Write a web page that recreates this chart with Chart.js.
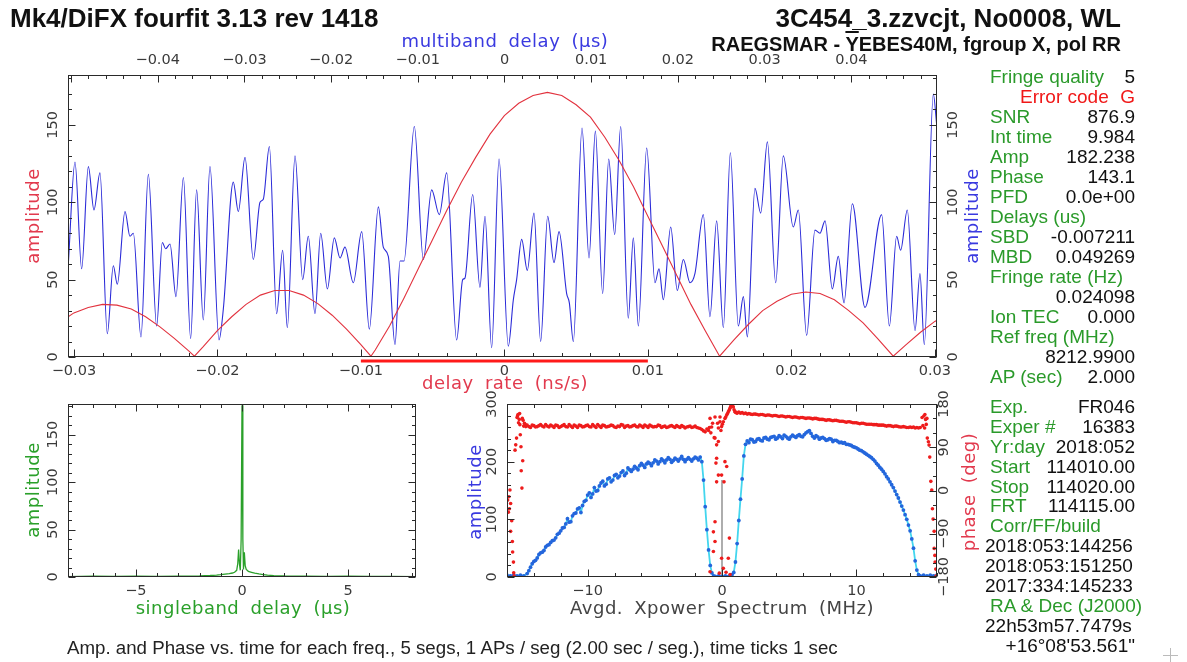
<!DOCTYPE html>
<html><head><meta charset="utf-8">
<script src="https://cdn.jsdelivr.net/npm/chart.js@4.4.1/dist/chart.umd.min.js"></script>
<style>
html,body{margin:0;padding:0;background:#fff;}
#page{position:relative;width:1187px;height:662px;overflow:hidden;font-family:"Liberation Sans",Arial,Helvetica,sans-serif;background:#fff;}
canvas{position:absolute;left:0;top:0;}
.t{position:absolute;white-space:nowrap;}
.hdr{font-weight:bold;font-size:26px;line-height:26px;color:#111;}
.sub{font-weight:bold;font-size:20px;line-height:20px;color:#111;}
.info{font-size:19px;line-height:19px;}
.g{color:#2a9a2a;} .k{color:#111;} .r{color:#f01818;}
.foot{font-size:18.7px;line-height:18.7px;color:#222;}
</style></head>
<body><div id="page">
<canvas id="cMain" width="1187" height="662"></canvas>
<canvas id="cSbd" width="1187" height="662"></canvas>
<canvas id="cSpec" width="1187" height="662"></canvas>
<div class="t hdr" style="left:10px;top:5px;">Mk4/DiFX fourfit 3.13 rev 1418</div>
<div class="t hdr" style="right:66px;top:5px;">3C454_3.zzvcjt, No0008, WL</div>
<div class="t sub" style="right:66px;top:34px;">RAEGSMAR - <span style="text-decoration:overline">Y</span>EBES40M, fgroup X, pol RR</div>
<div class="t foot" style="left:67px;top:639px;">Amp. and Phase vs. time for each freq., 5 segs, 1 APs / seg (2.00 sec / seg.), time ticks 1 sec</div>
<div class="t" style="left:1163px;top:655px;width:15px;height:1px;background:#bbb;"></div>
<div class="t" style="left:1170px;top:648px;width:1px;height:15px;background:#bbb;"></div>
<div id="info"></div>
</div>
<script>
// ---------------- DATA ----------------
// delay-rate function (red), x in ns/s
const rateX = [-0.0304,-0.030,-0.029,-0.028,-0.027,-0.026,-0.025,-0.024,-0.023,-0.022,-0.0216,-0.021,-0.020,-0.019,-0.018,-0.017,-0.016,-0.015,-0.014,-0.013,-0.012,-0.011,-0.010,-0.0093,-0.009,-0.008,-0.007,-0.006,-0.005,-0.004,-0.003,-0.002,-0.001,0.000,0.001,0.002,0.003,0.004,0.005,0.006,0.007,0.008,0.009,0.010,0.011,0.012,0.013,0.014,0.015,0.016,0.017,0.018,0.019,0.020,0.021,0.022,0.023,0.024,0.025,0.026,0.0271,0.028,0.029,0.030,0.03015];
const rateAmp = [26,28.5,32,34,33.5,31,26,19.5,12,4,0.5,6.5,17,26,34,40,43,43,40,34.5,27,18,8,0.5,4.5,20,38,57,76,95,113,129,144,156,164,169,171,169,163,155,142,127,110,91,72,53,34,17,0.5,11,21,30,36,40.5,42,41,37,30,22,12,0.5,8,16,23,23.8];
// multiband delay function (blue), x in microseconds
const mbdX = [-0.05031,-0.04954,-0.04877,-0.04800,-0.04735,-0.04666,-0.04581,-0.04512,-0.04466,-0.04377,-0.04320,-0.04281,-0.04193,-0.04108,-0.04012,-0.03947,-0.03908,-0.03858,-0.03789,-0.03704,-0.03620,-0.03551,-0.03474,-0.03397,-0.03293,-0.03243,-0.03128,-0.03070,-0.02993,-0.02897,-0.02820,-0.02782,-0.02712,-0.02628,-0.02559,-0.02505,-0.02416,-0.02328,-0.02263,-0.02186,-0.02120,-0.02043,-0.01963,-0.01897,-0.01840,-0.01744,-0.01647,-0.01559,-0.01455,-0.01398,-0.01340,-0.01263,-0.01205,-0.01159,-0.01040,-0.00936,-0.00840,-0.00752,-0.00667,-0.00552,-0.00482,-0.00456,-0.00367,-0.00283,-0.00225,-0.00148,-0.00063,0.00044,0.00102,0.00140,0.00198,0.00263,0.00340,0.00417,0.00498,0.00571,0.00629,0.00717,0.00748,0.00794,0.00894,0.00975,0.01048,0.01132,0.01202,0.01271,0.01340,0.01428,0.01486,0.01544,0.01640,0.01736,0.01782,0.01832,0.01917,0.01993,0.02063,0.02140,0.02197,0.02293,0.02370,0.02447,0.02524,0.02605,0.02697,0.02755,0.02801,0.02889,0.02955,0.03032,0.03128,0.03216,0.03331,0.03389,0.03485,0.03581,0.03639,0.03697,0.03781,0.03850,0.03916,0.04012,0.04158,0.04350,0.04439,0.04523,0.04569,0.04646,0.04735,0.04792,0.04842,0.04946,0.04985];
const mbdAmp = [60,126,57,123,95,119,15,59,47,94,78,80,13,118,20,74,70,73,39,116,12,108,24,123,11,31,113,94,129,63,100,102,136,28,69,19,130,50,78,28,80,44,77,64,71,48,81,18,97,71,65,8,62,62,149,63,108,92,119,11,50,51,105,45,91,6,128,7,37,50,76,56,93,10,91,61,81,41,35,10,148,64,146,41,128,79,149,25,77,20,135,48,57,37,84,43,63,48,54,92,26,88,19,132,20,39,13,109,93,139,48,130,84,95,14,82,80,88,44,65,35,99,32,92,20,78,69,95,17,54,8,170,150];
// singleband delay (green), x in microseconds
const sbdX = [-8.2,-7,-6,-5,-4,-3,-2,-1.5,-1.2,-1,-0.8,-0.6,-0.45,-0.35,-0.25,-0.2,-0.16,-0.12,-0.08,-0.04,0,0.04,0.07,0.11,0.15,0.2,0.3,0.45,0.6,0.8,1,1.2,1.5,2,3,4,5,6,7,8.2];
const sbdAmp = [0.5,0.8,0.6,0.9,0.7,1.0,1.2,1.6,2.0,2.4,3,3.6,4.2,5,7,14,29,14,7,40,181,40,8,26,12,8,6,5,4,3.2,2.6,2,1.5,1.1,0.9,0.7,0.8,0.6,0.7,0.5];
// averaged cross-power spectrum, x in MHz (main grid)
const specFreq = [-16,-15.75,-15.5,-15.25,-15,-14.75,-14.5,-14.25,-14,-13.75,-13.5,-13.25,-13,-12.75,-12.5,-12.25,-12,-11.75,-11.5,-11.25,-11,-10.75,-10.5,-10.25,-10,-9.75,-9.5,-9.25,-9,-8.75,-8.5,-8.25,-8,-7.75,-7.5,-7.25,-7,-6.75,-6.5,-6.25,-6,-5.75,-5.5,-5.25,-5,-4.75,-4.5,-4.25,-4,-3.75,-3.5,-3.25,-3,-2.75,-2.5,-2.25,-2,-1.75,
 -1.625,-1.5,-1.375,-1.25,-1.125,-1,-0.875,-0.75,-0.625,-0.5,-0.25,0,0.25,0.5,0.625,0.75,0.875,1,1.125,1.25,1.375,1.5,1.625,1.75,1.875,
 2,2.25,2.5,2.75,3,3.25,3.5,3.75,4,4.25,4.5,4.75,5,5.25,5.5,5.75,6,6.25,6.5,6.75,7,7.25,7.5,7.75,8,8.25,8.5,8.75,9,9.25,9.5,9.75,10,10.25,10.5,10.75,11,11.25,11.5,11.75,12,12.25,12.5,12.75,13,13.25,13.5,13.75,14,
 14.125,14.25,14.375,14.5,14.625,14.75,15,15.25,15.5,15.75,16];
const specAmp = [3,2,3,2,3,2,6,17,27,33,42,46,55,60,64,74,80,86,101,96,110,118,112,131,142,138,155,150,163,158,170,165,176,172,181,176,189,183,192,186,197,190,199,193,203,196,205,198,207,199,206,201,209,200,207,201,208,203,
 208,200,168,122,82,47,20,7,2,1,2,1,2,1,1,4,8,26,58,98,135,170,210,230,236,
 233,238,235,240,236,242,238,243,239,245,240,244,239,246,242,247,243,250,254,244,245,239,242,237,240,235,237,233,232,230,229,226,224,220,217,213,209,204,197,190,183,174,165,155,143,130,116,100,80,
 66,50,28,12,4,2,3,2,3,2,3];
const specPhase = [null,null,null,null,null,null,136,131,135,133,137,132,134,136,131,135,133,137,132,134,136,131,135,133,136,132,134,137,131,135,133,136,132,134,137,131,135,133,136,132,134,136,131,134,133,136,131,134,132,135,131,133,135,130,133,131,134,130,
 129,127,124,122,128,null,null,null,null,null,null,null,null,null,null,null,null,163,161,163,161,162,160,161,159,
 160,158,159,157,158,156,157,155,156,154,155,153,154,152,153,151,152,150,151,149,150,148,148,146,147,145,146,144,144,142,143,141,141,139,140,138,138,137,137,136,136,134,135,133,134,132,133,131,132,
 131,132,130,131,130,131,null,null,null,null,null];
// in-between spectral channels
const specFreqMid = [-14.375,-14.125,-13.875,-13.625,-13.375,-13.125,-12.875,-12.625,-12.375,-12.125,-11.875,-11.625,-11.375,-11.125,-10.875,-10.625,-10.375,-10.125,-9.875,-9.625,-9.375,-9.125,-8.875,-8.625,-8.375,-8.125,-7.875,-7.625,-7.375,-7.125,-6.875,-6.625,-6.375,-6.125,-5.875,-5.625,-5.375,-5.125,-4.875,-4.625,-4.375,-4.125,-3.875,-3.625,-3.375,-3.125,-2.875,-2.625,-2.375,-2.125,-1.875,
 2.125,2.375,2.625,2.875,3.125,3.375,3.625,3.875,4.125,4.375,4.625,4.875,5.125,5.375,5.625,5.875,6.125,6.375,6.625,6.875,7.125,7.375,7.625,7.875,8.125,8.375,8.625,8.875,9.125,9.375,9.625,9.875,10.125,10.375,10.625,10.875,11.125,11.375,11.625,11.875,12.125,12.375,12.625,12.875,13.125,13.375,13.625,13.875];
const specAmpMid = [11,23,29,39,43,52,56,63,68,76,85,92,95,106,111,120,124,133,146,144,149,158,166,161,172,168,178,175,184,180,186,187,189,193,194,196,197,198,201,200,202,203,204,202,204,205,204,204,204,205,206,
 239,234,239,237,241,239,242,244,241,243,246,241,243,244,245,244,247,252,249,241,243,241,240,238,239,237,235,234,233,230,228,225,222,219,215,211,207,201,194,187,179,170,160,149,137,123,108,90];
const specPhaseMid = [133,136,132,135,134,137,132,134,136,131,135,133,137,131,134,136,132,135,133,137,131,134,136,132,134,135,131,133,136,134,132,135,133,136,131,134,136,132,133,135,133,131,134,133,135,131,133,132,134,132,131,
 159,159,158,158,157,157,156,156,155,155,154,154,153,153,152,152,151,151,150,150,149,148,147,147,146,146,145,144,143,143,142,141,140,140,139,138,138,137,136,136,135,135,134,134,133,132,132,131];
// phase of channels with little or no signal
const phaseScatFreq = [-15.95,-15.9,-15.86,-15.82,-15.78,-15.73,-15.73,-15.65,-15.6,-15.58,-15.52,-15.5,-15.47,-15.4,-15.35,-15.29,-15.25,-15.22,-15.18,-15.14,-15.09,-15.06,-15.04,-15.01,-14.96,-14.94,-14.89,-14.86,-14.83,-14.8,-14.76,-14.7,-14.65,-14.6,
 -1.0,-0.94,-0.89,-0.89,-0.83,-0.77,-0.7,-0.64,-0.64,-0.58,-0.52,-0.52,-0.52,-0.52,-0.45,-0.4,-0.4,-0.4,-0.33,-0.27,-0.27,-0.27,-0.2,-0.15,-0.15,-0.08,-0.03,-0.03,-0.03,0.03,0.1,0.1,0.15,0.22,0.22,0.28,0.35,0.35,0.3,0.41,0.47,0.47,0.53,0.55,0.59,0.6,0.65,0.71,0.78,0.84,0.9,0.96,1.06,
 14.89,14.95,15.02,15.08,15.1,15.15,15.2,15.25,15.28,15.36,15.41,15.46,15.54,15.61,15.66,15.71,15.79,15.79,15.84,15.86,15.91,15.93];
const phaseScatDeg = [-20,-45,-13,-38,1,-27,-85,-63,-106,-128,-149,-171,-178,84,95,109,152,155,158,141,148,160,137,116,91,41,5,150,62,146,134,140,138,133,
 125,131,150,-169,120,132,140,-86,-127,110,109,-65,-106,153,57,95,67,18,140,102,32,130,-172,143,153,125,133,32,-141,138,143,-162,18,150,60,153,157,50,-170,160,164,-141,167,-99,171,-175,175,179,176,174,168,164,162,
 152,135,155,130,158,148,137.5,150,109,101.6,94.5,69.5,19,1,-38,-59.5,-85,-120.5,-135,-149,-163.6,-178];
const dcLineFreq = [0, 0];
const dcLineAmp = [0, 168];
const rateWindow = [-0.01, 0.01];
// tick labels
const rateTicks = [-0.03,-0.02,-0.01,0,0.01,0.02,0.03];
const mbdTicks = [-0.04,-0.03,-0.02,-0.01,0,0.01,0.02,0.03,0.04];
const ampTicks = [0,50,100,150];
const sbdTicks = [-5,0,5];
const specFreqTicks = [-10,0,10];
const specAmpTicks = [0,100,200,300];
const phaseTicks = [-180,-90,0,90,180];

// ---------------- INFO PANEL ----------------
const infoBlock1 = [
 ['Fringe quality','5'],['Error code','G'],['SNR','876.9'],['Int time','9.984'],['Amp','182.238'],['Phase','143.1'],
 ['PFD','0.0e+00'],['Delays (us)',''],['SBD','-0.007211'],['MBD','0.049269'],['Fringe rate (Hz)',''],['','0.024098'],
 ['Ion TEC','0.000'],['Ref freq (MHz)',''],['','8212.9900'],['AP (sec)','2.000']];
const infoBlock2 = [
 ['Exp.','FR046'],['Exper #','16383'],['Yr:day','2018:052'],['Start','114010.00'],['Stop','114020.00'],['FRT','114115.00'],
 ['Corr/FF/build',''],['#2018:053:144256',''],['#2018:053:151250',''],['#2017:334:145233',''],['RA & Dec (J2000)',''],
 ['#22h53m57.7479s',''],['','+16\u00b008\'53.561"']];
(function(){
  const host=document.getElementById('info');
  function add(txt, cls, base, left, right){
    const d=document.createElement('div'); d.className='t info '+cls; d.textContent=txt;
    d.style.top=(base-16.1)+'px';
    if(left!=null) d.style.left=left+'px'; else d.style.right=(1187-right)+'px';
    host.appendChild(d);
  }
  infoBlock1.forEach((r,i)=>{
    const b=83+20*i;
    if(r[0]==='Error code'){ add('Error code','r',b,1020,null); add('G','r',b,null,1135); return; }
    if(r[0]) add(r[0],'g',b,990,null);
    if(r[1]) add(r[1],'k',b,null,1135);
  });
  infoBlock2.forEach((r,i)=>{
    const b=413+19.9*i;
    if(r[0].startsWith('#')) add(r[0].slice(1),'k',b,985,null);
    else if(r[0]) add(r[0],'g',b,990,null);
    if(r[1]) add(r[1],'k',b,null,1135);
  });
})();

// ---------------- FRAME PLUGIN ----------------
function fmt(v){ return (v<0?'\u2212':'')+String(Math.abs(v)); }
function steps(min,max,step){ const out=[]; for(let k=Math.ceil(min/step-1e-6); k*step<=max+1e-9; k++) out.push(k*step); return out; }
const TICKFONT='14.5px "DejaVu Sans"';
const TITLEFONT='18px "DejaVu Sans"';
const pgFrame={
  id:'pgFrame',
  afterDraw(chart,args,o){
    const ctx=chart.ctx, a=chart.chartArea;
    ctx.save();
    const L=Math.round(a.left)+0.5, R=Math.round(a.right)-0.5, T=Math.round(a.top)+0.5, B=Math.round(a.bottom)-0.5;
    ctx.strokeStyle='#2a2a2a'; ctx.lineWidth=1;
    ctx.strokeRect(L,T,R-L,B-T);
    ctx.beginPath();
    for(const ax of o.axes){
      const s=chart.scales[ax.scale];
      for(const v of steps(s.min,s.max,ax.minor)){
        const isMajor=Math.abs(v/ax.major-Math.round(v/ax.major))<1e-6;
        const len=isMajor?7:3.5;
        const p=Math.round(s.getPixelForValue(v))+0.5;
        if(ax.side==='bottom'){ctx.moveTo(p,B);ctx.lineTo(p,B-len);}
        else if(ax.side==='top'){ctx.moveTo(p,T);ctx.lineTo(p,T+len);}
        else if(ax.side==='left'){ctx.moveTo(L,p);ctx.lineTo(L+len,p);}
        else {ctx.moveTo(R,p);ctx.lineTo(R-len,p);}
      }
    }
    ctx.stroke();
    ctx.textAlign='center'; ctx.textBaseline='middle';
    for(const ax of o.axes){
      if(!ax.labels) continue;
      const s=chart.scales[ax.scale];
      ctx.font=TICKFONT; ctx.fillStyle='#3a3a3a';
      const horiz=(ax.side==='top'||ax.side==='bottom');
      for(const v of ax.labels){
        const p=s.getPixelForValue(v);
        if(horiz) ctx.fillText(fmt(v),p,ax.at);
        else {ctx.save();ctx.translate(ax.at,p);ctx.rotate(-Math.PI/2);ctx.fillText(fmt(v),0,0);ctx.restore();}
      }
    }
    for(const t of (o.titles||[])){
      ctx.save();
      ctx.font=TITLEFONT; ctx.fillStyle=t.color;
      if('letterSpacing' in ctx) ctx.letterSpacing='0.5px';
      if('wordSpacing' in ctx) ctx.wordSpacing='5px';
      ctx.translate(t.x,t.y); if(t.rot) ctx.rotate(-Math.PI/2);
      ctx.fillText(t.text,0,0);
      ctx.restore();
    }
    for(const b of (o.bars||[])){
      const s=chart.scales[b.scale];
      const x1=s.getPixelForValue(b.range[0]), x2=s.getPixelForValue(b.range[1]);
      ctx.fillStyle=b.color; ctx.fillRect(x1,b.y-b.w/2,x2-x1,b.w);
    }
    ctx.restore();
  }
};
const base={responsive:false,animation:false,devicePixelRatio:1,events:[],
  plugins:{legend:{display:false},tooltip:{enabled:false}}};
const pts=(xs,ys)=>xs.map((x,i)=>({x:x,y:ys[i]}));
const byX=(p,q)=>p.x-q.x;

// ---------------- MAIN CHART ----------------
new Chart(document.getElementById('cMain'),{
  type:'line',
  data:{datasets:[
    {data:pts(rateX,rateAmp),xAxisID:'x',yAxisID:'y',borderColor:'#e2323e',borderWidth:1.1,pointRadius:0,tension:0},
    {data:pts(mbdX,mbdAmp),xAxisID:'xTop',yAxisID:'y',borderColor:'#2b2bd8',borderWidth:1.1,pointRadius:0,cubicInterpolationMode:'monotone'}
  ]},
  options:Object.assign({},base,{
    layout:{padding:{left:68,top:75,right:250,bottom:305}},
    scales:{
      x:{type:'linear',min:-0.03041,max:0.03015,display:false},
      xTop:{type:'linear',position:'top',min:-0.050346,max:0.049885,display:false},
      y:{type:'linear',min:0,max:182.24,display:false}
    },
    plugins:Object.assign({},base.plugins,{pgFrame:{
      axes:[
        {side:'bottom',scale:'x',major:0.01,minor:0.002,labels:rateTicks,at:371},
        {side:'top',scale:'xTop',major:0.01,minor:0.002,labels:mbdTicks,at:60},
        {side:'left',scale:'y',major:50,minor:10,labels:ampTicks,at:53},
        {side:'right',scale:'y',major:50,minor:10,labels:ampTicks,at:953}
      ],
      titles:[
        {text:'amplitude',x:34,y:216,rot:true,color:'#e23a4e'},
        {text:'amplitude',x:973,y:216,rot:true,color:'#3a3ae0'},
        {text:'delay rate (ns/s)',x:505,y:384,color:'#e23a4e'},
        {text:'multiband delay (\u03bcs)',x:505,y:42,color:'#3a3ae0'}
      ],
      bars:[{scale:'x',range:rateWindow,y:361,w:3,color:'#ff1a1a'}]
    }})
  }),
  plugins:[pgFrame]
});

// ---------------- SINGLEBAND DELAY ----------------
new Chart(document.getElementById('cSbd'),{
  type:'line',
  data:{datasets:[
    {data:pts(sbdX,sbdAmp),borderColor:'#2aa02a',borderWidth:1.3,pointRadius:0,tension:0}
  ]},
  options:Object.assign({},base,{
    layout:{padding:{left:68,top:404,right:771,bottom:85}},
    scales:{x:{type:'linear',min:-8.2,max:8.2,display:false},y:{type:'linear',min:0,max:182.24,display:false}},
    plugins:Object.assign({},base.plugins,{pgFrame:{
      axes:[
        {side:'bottom',scale:'x',major:5,minor:1,labels:sbdTicks,at:591},
        {side:'top',scale:'x',major:5,minor:1},
        {side:'left',scale:'y',major:50,minor:10,labels:ampTicks,at:53},
        {side:'right',scale:'y',major:50,minor:10}
      ],
      titles:[
        {text:'amplitude',x:34,y:490,rot:true,color:'#2aa02a'},
        {text:'singleband delay (\u03bcs)',x:243,y:609,color:'#2aa02a'}
      ]
    }})
  }),
  plugins:[pgFrame]
});

// ---------------- SPECTRUM ----------------
const ampPts = pts(specFreq,specAmp).concat(pts(specFreqMid,specAmpMid)).sort(byX);
const phPts = pts(specFreq,specPhase).concat(pts(specFreqMid,specPhaseMid)).filter(p=>p.y!==null);
new Chart(document.getElementById('cSpec'),{
  type:'line',
  data:{datasets:[
    {data:phPts,yAxisID:'yP',showLine:false,pointRadius:1.8,pointBorderWidth:0,pointBackgroundColor:'#ee1c1c',borderColor:'#ee1c1c'},
    {data:pts(phaseScatFreq,phaseScatDeg),yAxisID:'yP',showLine:false,pointRadius:1.8,pointBorderWidth:0,pointBackgroundColor:'#ee1c1c',borderColor:'#ee1c1c'},
    {data:ampPts,yAxisID:'y',borderColor:'#43d6ee',borderWidth:1.8,tension:0,pointRadius:1.9,pointBorderWidth:0,pointBackgroundColor:'#2466dc'},
    {data:pts(dcLineFreq,dcLineAmp),yAxisID:'y',borderColor:'#777',borderWidth:1.2,pointRadius:0,tension:0}
  ]},
  options:Object.assign({},base,{
    layout:{padding:{left:507,top:404,right:250,bottom:85}},
    scales:{x:{type:'linear',min:-16,max:16,display:false},
            y:{type:'linear',min:0,max:300,display:false},
            yP:{type:'linear',position:'right',min:-180,max:180,display:false}},
    plugins:Object.assign({},base.plugins,{pgFrame:{
      axes:[
        {side:'bottom',scale:'x',major:10,minor:2,labels:specFreqTicks,at:591},
        {side:'top',scale:'x',major:10,minor:2},
        {side:'left',scale:'y',major:100,minor:20,labels:specAmpTicks,at:492},
        {side:'right',scale:'yP',major:90,minor:30,labels:phaseTicks,at:944}
      ],
      titles:[
        {text:'amplitude',x:476,y:492,rot:true,color:'#3a3ae0'},
        {text:'phase (deg)',x:970,y:492,rot:true,color:'#e23a4e'},
        {text:'Avgd. Xpower Spectrum (MHz)',x:722,y:609,color:'#444'}
      ]
    }})
  }),
  plugins:[pgFrame]
});
</script>
</body></html>
